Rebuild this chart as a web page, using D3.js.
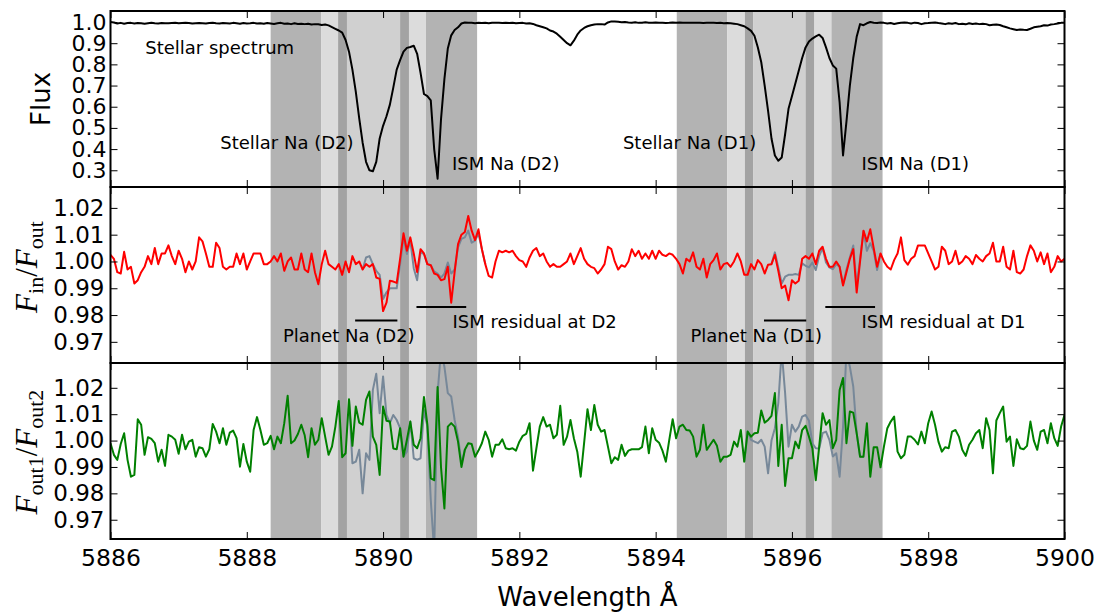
<!DOCTYPE html>
<html>
<head>
<meta charset="utf-8">
<script src="https://cdn.jsdelivr.net/npm/d3@7"></script>
<style>
  body { margin: 0; background: #fff; }
  svg { display: block; }
  text { font-family: "DejaVu Sans", sans-serif; fill: #000; }
</style>
</head>
<body>
<svg id="chart" width="1100" height="613"></svg>
<script>
// ---- sampling grid (Angstrom) ----
const waveFirst = 5886;
const waveStep = 0.05;

// ---- stellar spectrum, normalised flux ----
const stellarFlux = [
  1.000, 0.998, 0.993, 0.996, 0.992, 0.995, 0.996, 0.993, 0.995, 0.994,
  0.992, 0.994, 0.996, 0.994, 0.993, 0.995, 0.994, 0.994, 0.995, 0.996,
  0.994, 0.995, 0.996, 0.995, 0.993, 0.994, 0.995, 0.994, 0.993, 0.995,
  0.996, 0.994, 0.993, 0.995, 0.994, 0.993, 0.996, 0.994, 0.992, 0.995,
  0.993, 0.994, 0.996, 0.993, 0.994, 0.992, 0.995, 0.993, 0.991, 0.994,
  0.996, 0.992, 0.993, 0.990, 0.994, 0.991, 0.992, 0.990, 0.992, 0.988,
  0.990, 0.989, 0.986, 0.988, 0.984, 0.976, 0.968, 0.960, 0.950, 0.915,
  0.860, 0.775, 0.670, 0.545, 0.430, 0.340, 0.300, 0.295, 0.340, 0.450,
  0.510, 0.555, 0.610, 0.690, 0.775, 0.820, 0.860, 0.878, 0.882, 0.888,
  0.850, 0.760, 0.660, 0.650, 0.630, 0.400, 0.260, 0.540, 0.730, 0.875,
  0.937, 0.962, 0.975, 0.993, 0.998, 0.997, 0.996, 0.994, 0.996, 0.995,
  0.996, 0.994, 0.996, 0.997, 0.996, 0.995, 0.996, 0.995, 0.997, 0.994,
  0.995, 0.996, 0.993, 0.994, 0.991, 0.985, 0.980, 0.975, 0.970, 0.960,
  0.955, 0.945, 0.930, 0.915, 0.900, 0.890, 0.912, 0.940, 0.960, 0.972,
  0.980, 0.985, 0.988, 0.990, 0.990, 0.988, 0.998, 1.003, 1.002, 1.001,
  0.999, 1.000, 0.998, 0.997, 0.999, 0.996, 0.997, 0.999, 0.997, 0.996,
  0.998, 0.997, 0.996, 0.995, 0.996, 0.998, 0.997, 0.998, 0.997, 0.996,
  0.997, 0.996, 0.997, 0.996, 0.995, 0.996, 0.997, 0.996, 0.995, 0.996,
  0.994, 0.995, 0.994, 0.992, 0.990, 0.985, 0.980, 0.970, 0.958, 0.935,
  0.880, 0.810, 0.700, 0.580, 0.450, 0.370, 0.345, 0.360, 0.470, 0.590,
  0.650, 0.710, 0.770, 0.830, 0.880, 0.908, 0.922, 0.932, 0.940, 0.925,
  0.880, 0.830, 0.795, 0.780, 0.620, 0.370, 0.530, 0.700, 0.830, 0.930,
  0.990, 0.985, 0.994, 1.000, 0.997, 0.995, 0.998, 0.996, 0.993, 0.995,
  0.991, 0.994, 0.997, 0.998, 0.996, 0.993, 0.997, 0.995, 0.990, 0.994,
  0.995, 0.997, 0.998, 0.995, 0.993, 0.990, 0.994, 0.992, 0.995, 0.990,
  0.992, 0.989, 0.994, 0.991, 0.993, 0.990, 0.992, 0.990, 0.985, 0.987,
  0.988, 0.986, 0.980, 0.975, 0.970, 0.966, 0.962, 0.965, 0.963, 0.962,
  0.968, 0.975, 0.978, 0.980, 0.985, 0.983, 0.988, 0.990, 0.993, 0.996,
  0.997
];

// ---- in-transit / out-of-transit ratio ----
const inOutRatio = [
  1.0025, 1.001, 0.996, 0.9955, 1.0036, 0.997, 0.998, 0.9918, 0.993, 0.996,
  0.998, 1.002, 0.999, 1.005, 0.999, 1.003, 1.003, 1.006, 1.002, 0.999,
  1.004, 1.001, 0.996, 1.000, 0.997, 1.000, 1.009, 1.0075, 1.003, 0.998,
  0.998, 1.007, 1.005, 0.998, 0.997, 0.998, 0.998, 1.003, 0.999, 1.003,
  0.997, 1.000, 1.003, 1.003, 1.003, 0.999, 0.999, 1.000, 1.002, 1.000,
  1.003, 0.9965, 1.000, 1.0015, 0.997, 0.997, 1.003, 0.997, 0.996, 1.003,
  0.996, 0.9915, 0.999, 1.004, 0.999, 0.998, 0.997, 0.999, 0.995, 1.000,
  0.996, 1.002, 0.999, 1.000, 0.997, 0.999, 0.998, 0.999, 0.994, 0.9935,
  0.9815, 0.9846, 0.9928, 0.9925, 0.992, 1.001, 1.0105, 1.004, 1.009, 1.003,
  0.996, 1.0046, 1.003, 0.999, 0.9986, 0.9955, 0.995, 0.993, 0.9934, 0.998,
  0.9846, 0.996, 1.0065, 1.010, 1.011, 1.017, 1.0115, 1.008, 1.012, 1.0046,
  0.999, 0.9946, 0.994, 1.000, 1.004, 1.0034, 1.004, 1.0034, 1.004, 1.002,
  1.0005, 1.000, 0.998, 1.0015, 1.004, 1.005, 1.002, 1.003, 1.000, 0.998,
  0.999, 0.998, 0.998, 0.999, 1.000, 1.003, 0.999, 1.002, 1.005, 1.001,
  0.999, 0.998, 0.9975, 0.9955, 0.997, 0.999, 1.0055, 1.0046, 1.000, 0.997,
  0.9986, 0.998, 1.000, 1.0046, 1.002, 1.004, 1.001, 1.003, 1.001, 1.004,
  1.001, 1.004, 1.0025, 1.002, 1.003, 1.0025, 1.001, 0.999, 0.9955, 1.001,
  1.000, 1.0034, 0.998, 0.997, 1.001, 0.994, 0.999, 1.0005, 1.003, 0.997,
  0.999, 0.9995, 0.998, 1.000, 1.003, 1.000, 0.995, 0.995, 0.999, 0.997,
  1.0005, 0.999, 0.9955, 0.9988, 0.999, 1.0025, 0.9965, 0.990, 0.991, 0.9855,
  0.993, 0.9918, 0.9928, 1.001, 1.002, 1.001, 1.003, 0.999, 1.004, 1.0055,
  1.001, 0.998, 0.998, 1.000, 0.998, 0.991, 0.996, 1.001, 1.0046, 0.9884,
  1.000, 1.0115, 1.0075, 1.012, 1.005, 0.998, 1.003, 1.000, 0.998, 0.997,
  1.0005, 1.003, 1.009, 1.0005, 0.9988, 1.001, 1.002, 1.006, 1.006, 1.006,
  1.003, 1.000, 0.997, 0.998, 1.0055, 1.004, 0.999, 1.000, 1.004, 0.999,
  1.000, 1.002, 1.001, 0.999, 1.0024, 1.001, 1.000, 1.002, 1.003, 1.007,
  1.000, 1.000, 1.0055, 0.998, 0.997, 1.004, 0.996, 0.9955, 0.997, 1.002,
  1.006, 1.004, 1.000, 1.0034, 0.999, 1.003, 0.996, 0.998, 1.002, 1.000,
  1.001
];

// uncorrected in/out ratio across the two line cores
const inOutRawD2Start = 5889.70;
const inOutRawD2 = [
  0.997, 1.0015, 1.002, 0.999, 0.9965, 0.995, 0.986, 0.9885, 0.990, 0.990,
  0.990, 0.999, 1.009, 1.0028, 1.0078, 0.9975, 0.993, 1.0034, 1.0028, 0.999,
  0.9986, 0.9963, 0.9955, 0.994, 0.9955, 0.9996, 0.9955, 0.997, 1.0053, 1.0084,
  1.009, 1.0115, 1.007, 1.0078, 1.0103, 1.0046, 0.999
];
const inOutRawD1Start = 5895.70;
const inOutRawD1 = [
  0.999, 1.0034, 0.9978, 0.9918, 0.9943, 0.995, 0.995, 0.9953, 0.995, 0.9993,
  0.9984, 0.9978, 0.9996, 0.9968, 1.0021, 1.005, 0.9996, 0.9978, 0.9971, 0.999,
  0.998, 0.9915, 0.997, 1.0015, 1.006, 0.991, 1.0009, 1.0113, 1.004, 1.0068,
  1.004, 0.9968, 1.003
];

// ---- ratio of the two out-of-transit halves ----
const outOutRatio = [
  0.999, 0.9946, 0.9927, 0.9987, 1.0028, 0.9927, 0.9863, 0.987, 1.0081, 1.006,
  0.9946, 1.0013, 1.0006, 0.999, 0.992, 0.9965, 0.9904, 1.0022, 1.0015, 1.0003,
  0.995, 1.0022, 0.9967, 0.9996, 1.0003, 0.9939, 0.9975, 0.9971, 0.9939, 0.9967,
  1.0063, 1.0034, 0.999, 1.0047, 0.9984, 1.003, 1.0038, 1.0009, 0.9901, 0.9987,
  0.992, 0.9882, 1.004, 1.0089, 1.004, 0.9984, 0.999, 1.0018, 0.9967, 1.0015,
  0.999, 1.0066, 1.017, 0.999, 1.000, 1.0025, 1.006, 1.002, 0.9937, 1.0047,
  0.9984, 1.0003, 1.0085, 1.0015, 0.9946, 0.9977, 1.0053, 1.0150, 0.9937, 0.9952,
  1.0157, 0.998, 1.0129, 1.0068, 1.006, 1.0154, 1.0186, 1.0015, 0.9984, 0.987,
  1.0129, 1.0075, 1.0072, 0.997, 0.9967, 1.0047, 0.9939, 1.0003, 1.0072, 0.9984,
  0.9971, 1.0009, 1.0165, 1.006, 0.9857, 0.985, 1.0203, 0.990, 0.9743, 1.0053,
  1.0066, 1.0053, 0.9996, 0.990, 0.9965, 0.999, 0.9987, 0.9939, 0.9962, 0.999,
  1.0034, 1.0003, 0.9939, 0.9984, 0.9984, 1.0005, 0.9971, 0.9967, 0.9971, 0.9962,
  0.9996, 1.0018, 1.0025, 1.0066, 0.9886, 0.9971, 1.0053, 1.0089, 1.0053, 1.006,
  1.0009, 1.0022, 1.0132, 0.9984, 1.0015, 1.0078, 1.0009, 0.9958, 0.9863, 0.999,
  1.0119, 1.004, 1.0135, 1.006, 1.0034, 1.004, 0.9977, 0.9914, 0.9937, 0.9927,
  0.9984, 0.9942, 0.9962, 0.9967, 0.9967, 0.9967, 0.9975, 1.0053, 0.9952, 1.0047,
  1.0003, 0.9992, 0.9962, 0.992, 1.0003, 1.0081, 1.0009, 1.0053, 1.006, 1.004,
  1.0038, 1.0015, 0.9939, 0.9965, 1.006, 0.9965, 0.9984, 1.0003, 0.998, 0.992,
  0.9939, 0.9939, 0.9946, 0.9996, 0.9977, 1.004, 0.992, 1.0034, 1.0015, 1.0028,
  1.003, 1.0114, 1.0068, 1.0078, 1.0094, 1.018, 0.9904, 1.006, 0.9828, 0.9933,
  0.9933, 0.9996, 0.9971, 1.004, 1.0056, 1.0015, 0.9971, 0.985, 0.9977, 1.0104,
  1.006, 1.0078, 0.9971, 1.0003, 1.0192, 1.0237, 0.999, 1.011, 1.0106, 1.0028,
  0.9939, 0.9939, 1.0066, 0.9863, 0.9975, 0.9975, 0.9899, 0.9977, 1.0047, 1.0072,
  1.0091, 0.9958, 0.9933, 0.9946, 1.0015, 1.0015, 1.0003, 0.9985, 1.0034, 0.999,
  1.0066, 1.011, 1.006, 0.9996, 0.9958, 0.9975, 0.9971, 1.0034, 1.004, 1.0015,
  0.9965, 0.9942, 0.9984, 1.0003, 1.0028, 1.004, 0.9971, 1.0085, 1.004, 0.9876,
  1.0076, 1.0104, 1.0129, 0.9996, 1.0015, 0.9904, 1.0005, 0.9971, 0.9967, 0.998,
  1.0072, 1.000, 0.9965, 1.0034, 1.004, 0.999, 1.0066, 1.0009, 0.998, 1.0053,
  1.0097
];

const outOutRawD2Start = 5889.50;
const outOutRawD2 = [
  1.0157, 0.9914, 0.992, 0.9965, 0.980, 0.9952, 0.9927, 1.0192, 1.0253, 1.0104,
  1.0243, 1.0097, 1.0066, 1.0097, 1.0078, 1.0047, 0.9939, 0.9958, 1.0072, 0.9933,
  0.9927, 0.9933, 1.0116, 1.0053, 0.9775, 0.958, 1.018, 1.034, 1.028, 1.018,
  1.0167, 1.0078, 1.0015, 0.9914, 0.9965
];
const outOutRawD1Start = 5895.30;
const outOutRawD1 = [
  0.992, 1.0034, 1.0003, 0.9996, 0.999, 1.0003, 0.9977, 0.9876, 1.000, 1.0047,
  1.0142, 1.034, 1.018, 0.9977, 1.006, 1.0034, 1.0053, 1.0091, 1.0097, 1.0075,
  0.999, 0.9971, 0.997, 1.0028, 1.0034, 1.0003, 0.994, 0.9952, 0.9863, 1.0053,
  1.034, 1.028, 1.0205, 1.0028, 0.9939, 0.9939
];

// ---- shaded wavelength bands ----
const bandStart = [5888.35, 5889.09, 5889.34, 5889.47, 5890.25, 5890.38, 5890.63,
                   5894.31, 5895.05, 5895.31, 5895.43, 5896.20, 5896.33, 5896.58];
const bandEnd   = [5889.09, 5889.34, 5889.47, 5890.25, 5890.38, 5890.63, 5891.38,
                   5895.05, 5895.31, 5895.43, 5896.20, 5896.33, 5896.58, 5897.33];
const bandKind  = ["wing", "gap", "edge", "core", "edge", "gap", "wing",
                   "wing", "gap", "edge", "core", "edge", "gap", "wing"];

// ---- ticks ----
const waveTicks = [5886, 5888, 5890, 5892, 5894, 5896, 5898, 5900];
const fluxTicks = [0.3, 0.4, 0.5, 0.6, 0.7, 0.8, 0.9, 1.0];
const ratioTicks = [0.97, 0.98, 0.99, 1.00, 1.01, 1.02];

// ---- annotations ----
const noteText  = ["Stellar spectrum", "Stellar Na (D2)", "ISM Na (D2)", "Stellar Na (D1)", "ISM Na (D1)",
                   "Planet Na (D2)", "ISM residual at D2", "Planet Na (D1)", "ISM residual at D1"];
const noteWave  = [5886.51, 5887.61, 5891.01, 5893.52, 5897.02, 5888.53, 5891.02, 5894.51, 5897.02];
const noteLevel = [0.849, 0.399, 0.300, 0.399, 0.300, 0.9701, 0.9750, 0.9701, 0.9750];
const notePanel = [0, 0, 0, 0, 0, 1, 1, 1, 1];

const markStart = [5889.59, 5890.49, 5895.59, 5896.49];
const markEnd   = [5890.21, 5891.22, 5896.21, 5897.22];
const markLevel = [0.978, 0.983, 0.978, 0.983];

// ---------------------------------------------------------------
const svg = d3.select("#chart");
const left = 110.5, right = 1064.5;
const bandFill = { wing: "#b3b3b3", gap: "#dcdcdc", edge: "#a3a3a3", core: "#d0d0d0" };

const x = d3.scaleLinear().domain([5886, 5900]).range([left, right]);
const panels = [
  { y: d3.scaleLinear().domain([0.221, 1.052]).range([187, 11]), ticks: fluxTicks, fmt: d3.format(".1f"), size: 22, pad: 4 },
  { y: d3.scaleLinear().domain([0.9621, 1.0278]).range([363, 187]), ticks: ratioTicks, fmt: d3.format(".2f"), size: 23, pad: 6 },
  { y: d3.scaleLinear().domain([0.9627, 1.0294]).range([539, 363]), ticks: ratioTicks, fmt: d3.format(".2f"), size: 23, pad: 6 }
];

const grid = (start, n) => d3.range(n).map(i => start + waveStep * i);
const series = (start, values) => grid(start, values.length).map((w, i) => [w, values[i]]);

const bands = bandStart.map((s, i) => ({ s, e: bandEnd[i], kind: bandKind[i] }));

panels.forEach((p, k) => {
  const [yb, yt] = p.y.range();
  const g = svg.append("g");
  const clipId = "clip" + k;
  svg.append("clipPath").attr("id", clipId)
    .append("rect").attr("x", left).attr("y", yt).attr("width", right - left).attr("height", yb - yt);

  g.selectAll("rect.band").data(bands).join("rect")
    .attr("x", d => x(d.s)).attr("width", d => x(d.e) - x(d.s))
    .attr("y", yt).attr("height", yb - yt)
    .attr("fill", d => bandFill[d.kind]);
  p.g = g; p.clip = "url(#" + clipId + ")";
});

const line = (yScale) => d3.line().x(d => x(d[0])).y(d => yScale(d[1]));

function drawSeries(p, data, color, width) {
  p.g.append("path").datum(data)
    .attr("clip-path", p.clip)
    .attr("fill", "none").attr("stroke", color).attr("stroke-width", width)
    .attr("stroke-linejoin", "round")
    .attr("d", line(p.y));
}

drawSeries(panels[0], series(waveFirst, stellarFlux), "#000", 2);

drawSeries(panels[1], series(inOutRawD2Start, inOutRawD2), "#778899", 2);
drawSeries(panels[1], series(inOutRawD1Start, inOutRawD1), "#778899", 2);
drawSeries(panels[1], series(waveFirst, inOutRatio), "#ff0000", 2);

drawSeries(panels[2], series(outOutRawD2Start, outOutRawD2), "#778899", 2);
drawSeries(panels[2], series(outOutRawD1Start, outOutRawD1), "#778899", 2);
drawSeries(panels[2], series(waveFirst, outOutRatio), "#008000", 2);

// marker bars under the residual features
panels[1].g.selectAll("line.mark").data(markStart).join("line")
  .attr("x1", (d) => x(d)).attr("x2", (d, i) => x(markEnd[i]))
  .attr("y1", (d, i) => panels[1].y(markLevel[i])).attr("y2", (d, i) => panels[1].y(markLevel[i]))
  .attr("stroke", "#000").attr("stroke-width", 2);

// axes, ticks and frames
panels.forEach((p, k) => {
  const [yb, yt] = p.y.range();
  const last = k === panels.length - 1;

  const bottom = svg.append("g").attr("transform", `translate(0,${yb})`)
    .call(d3.axisBottom(x).tickValues(waveTicks).tickSize(-7).tickPadding(10)
      .tickFormat(last ? d3.format("d") : () => ""));
  const top = svg.append("g").attr("transform", `translate(0,${yt})`)
    .call(d3.axisTop(x).tickValues(waveTicks).tickSize(-7).tickFormat(() => ""));
  const leftAx = svg.append("g").attr("transform", `translate(${left},0)`)
    .call(d3.axisLeft(p.y).tickValues(p.ticks).tickSize(-7).tickPadding(p.pad).tickFormat(p.fmt));
  const rightAx = svg.append("g").attr("transform", `translate(${right},0)`)
    .call(d3.axisRight(p.y).tickValues(p.ticks).tickSize(-7).tickFormat(() => ""));

  [bottom, top, leftAx, rightAx].forEach(a => {
    a.select(".domain").remove();
    a.selectAll(".tick line").attr("stroke", "#000").attr("stroke-width", 1);
    a.attr("font-family", null);
  });
  bottom.selectAll("text").style("font-size", "23.5px").attr("fill", "#000");
  leftAx.selectAll("text").style("font-size", p.size + "px").attr("fill", "#000");

  svg.append("rect").attr("x", left).attr("y", yt)
    .attr("width", right - left).attr("height", yb - yt)
    .attr("fill", "none").attr("stroke", "#000").attr("stroke-width", 2);
});

// annotations
svg.selectAll("text.note").data(noteText).join("text")
  .attr("class", "note")
  .attr("x", (d, i) => x(noteWave[i]))
  .attr("y", (d, i) => panels[notePanel[i]].y(noteLevel[i]))
  .style("font-size", "18px")
  .text(d => d);

// axis titles
svg.append("text")
  .attr("transform", "translate(50,99) rotate(-90)")
  .attr("text-anchor", "middle").style("font-size", "26px").text("Flux");

function mathLabel(cx, cy, parts) {
  const t = svg.append("text")
    .attr("transform", `translate(${cx},${cy}) rotate(-90)`)
    .attr("text-anchor", "middle")
    .style("font-family", "'Liberation Serif', serif")
    .style("font-size", "31px");
  parts.forEach(([str, kind]) => {
    const s = t.append("tspan").text(str);
    if (kind === "var") s.style("font-style", "italic");
    if (kind === "sub") s.style("font-size", "22px").attr("dy", 6);
    if (kind === "up") s.attr("dy", -6);
  });
}
mathLabel(37, 267, [["F", "var"], ["in", "sub"], ["/", "up"], ["F", "var"], ["out", "sub"]]);
mathLabel(37, 452, [["F", "var"], ["out1", "sub"], ["/", "up"], ["F", "var"], ["out2", "sub"]]);

svg.append("text")
  .attr("x", (left + right) / 2).attr("y", 606)
  .attr("text-anchor", "middle").style("font-size", "26px")
  .text("Wavelength Å");
</script>
</body>
</html>
